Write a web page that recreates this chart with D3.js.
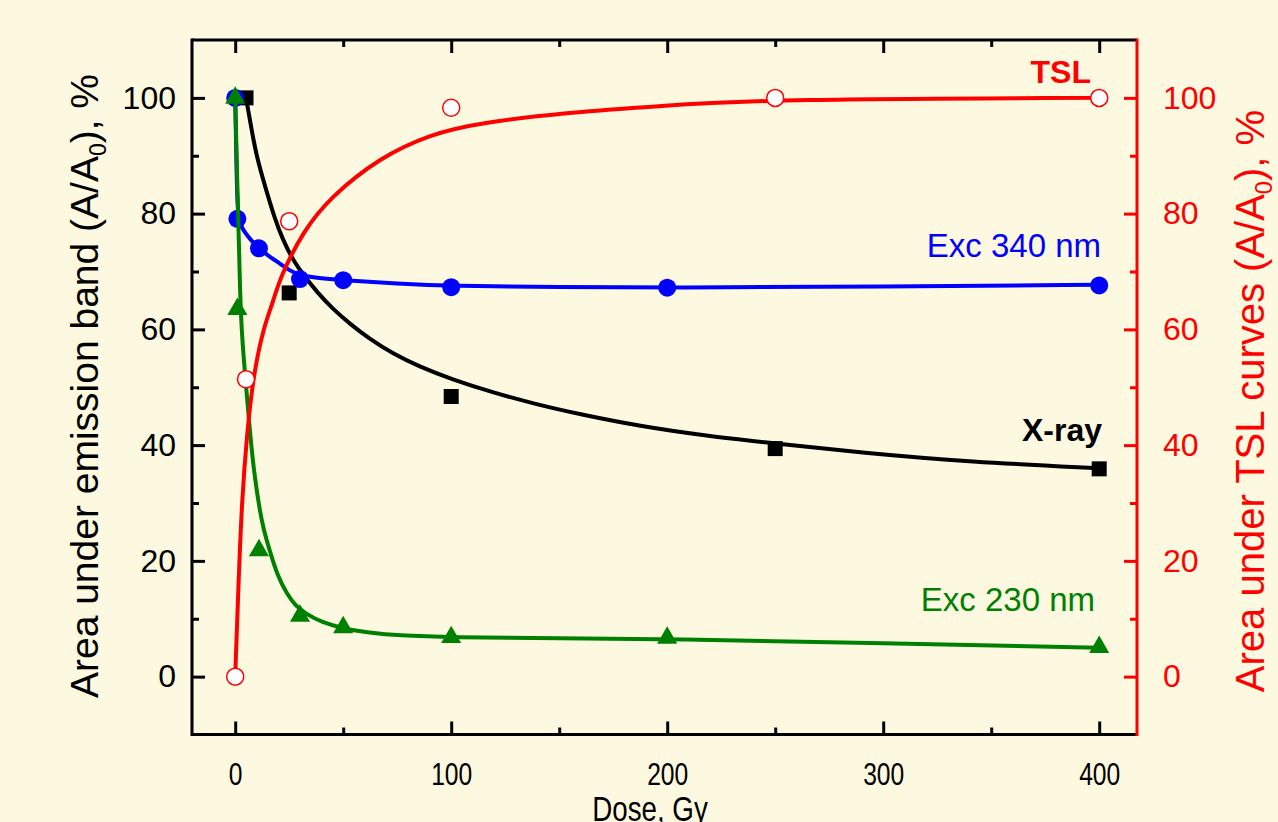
<!DOCTYPE html>
<html>
<head>
<meta charset="utf-8">
<script src="https://cdn.jsdelivr.net/npm/d3@7"></script>
<style>
  html, body { margin: 0; padding: 0; background: #fdf9e0; }
  svg { display: block; font-family: "Liberation Sans", Arial, sans-serif; }
</style>
</head>
<body>
<svg id="chart" width="1278" height="822"></svg>
<script>
// measured points (dose in Gy, area in %)
const xrayDose = [5, 25, 100, 250, 400];
const xrayArea = [100, 66.3, 48.4, 39.4, 35.9];

const exc340Dose = [0, 1, 11, 30, 50, 100, 200, 400];
const exc340Area = [100, 79.1, 74.0, 68.7, 68.5, 67.3, 67.2, 67.6];

const exc230Dose = [0, 1, 11, 30, 50, 100, 200, 400];
const exc230Area = [100, 63.5, 21.8, 10.5, 8.5, 6.8, 6.7, 5.1];

const tslDose = [0, 5, 25, 100, 250, 400];
const tslArea = [0, 51.4, 78.7, 98.3, 100, 100];

// fitted lines
const xrayFitDose = [5, 7.7, 10, 14, 18, 22, 27, 32, 38, 45, 53, 62, 73, 85, 100, 120, 140, 160, 187, 218, 250, 290, 340, 400];
const xrayFitArea = [100, 94.3, 89.7, 84.5, 79.5, 75.5, 71.8, 69.2, 66.4, 63.6, 61, 58.4, 55.8, 53.6, 51.4, 49, 47, 45.3, 43.3, 41.6, 40.3, 38.7, 37.1, 36];

const exc340FitDose = [0, 0.5, 1, 2, 4, 7, 11, 15, 21, 25, 30, 40, 50, 75, 100, 150, 200, 300, 400];
const exc340FitArea = [100, 90, 81, 78.3, 77, 75.5, 74, 72.8, 71.3, 70.2, 69.3, 68.8, 68.5, 67.9, 67.5, 67.3, 67.2, 67.4, 67.7];

const exc230FitDose = [0, 1.2, 2.3, 3.3, 4.6, 6.9, 8.5, 10.8, 13, 16.2, 19.5, 23.9, 28, 33, 40, 50, 62, 75, 100, 150, 200, 300, 400];
const exc230FitArea = [100, 82, 65, 58, 52, 42, 36, 30, 25.5, 21.5, 17.5, 14.3, 12.2, 10.8, 9.4, 8.3, 7.6, 7.1, 6.8, 6.6, 6.5, 5.8, 5.0];

const tslFitDose = [0, 1.5, 3.1, 5.4, 8.5, 13.1, 17.7, 20.8, 31.5, 43.9, 67, 90, 113, 155, 195, 250, 400];
const tslFitArea = [0, 16, 30.4, 41.9, 52.3, 60.3, 64.9, 69, 77, 82.8, 89.7, 93.7, 95.7, 97.5, 98.6, 99.8, 100];

const xTicks = [0, 100, 200, 300, 400];
const xMinor = [50, 150, 250, 350];
const yTicks = [0, 20, 40, 60, 80, 100];
const yMinor = [10, 30, 50, 70, 90];

const svg = d3.select('#chart');
const W = 1278, H = 822;
const mLeft = 192, mRight = 1137, mTop = 40, mBottom = 734.5;

svg.append('rect').attr('width', W).attr('height', H).attr('fill', '#fdf9e0');

const x = d3.scaleLinear().domain([-20, 417.5]).range([mLeft, mRight]);
const y = d3.scaleLinear().domain([-10, 110]).range([mBottom, mTop]);

const zip = (a, b) => a.map((d, i) => [d, b[i]]);

// ticks
function tickAxis(axis, tx, ty, color, labels) {
  const g = svg.append('g').attr('transform', `translate(${tx},${ty})`).call(axis);
  g.select('.domain').remove();
  g.selectAll('line').attr('stroke', color).attr('stroke-width', 3);
  g.selectAll('text').attr('fill', color).attr('font-size', 32)
    .attr('font-family', '"Liberation Sans", Arial, sans-serif');
  if (!labels) g.selectAll('text').remove();
  return g;
}

tickAxis(d3.axisBottom(x).tickValues(xTicks).tickSize(-13).tickPadding(28).tickFormat(d3.format('d')), 0, mBottom, '#000', true)
  .selectAll('text').attr('transform', 'scale(0.77,1)');
tickAxis(d3.axisBottom(x).tickValues(xMinor).tickSize(-7).tickFormat(''), 0, mBottom, '#000', false);
tickAxis(d3.axisTop(x).tickValues(xTicks).tickSize(-13).tickFormat(''), 0, mTop, '#000', false);
tickAxis(d3.axisTop(x).tickValues(xMinor).tickSize(-7).tickFormat(''), 0, mTop, '#000', false);

tickAxis(d3.axisLeft(y).tickValues(yTicks).tickSize(-13).tickPadding(16).tickFormat(d3.format('d')), mLeft, 0, '#000', true);
tickAxis(d3.axisLeft(y).tickValues(yMinor).tickSize(-7).tickFormat(''), mLeft, 0, '#000', false);
tickAxis(d3.axisRight(y).tickValues(yTicks).tickSize(-13).tickPadding(26).tickFormat(d3.format('d')), mRight, 0, '#ff0000', true);
tickAxis(d3.axisRight(y).tickValues(yMinor).tickSize(-7).tickFormat(''), mRight, 0, '#ff0000', false);

// frame
svg.append('line').attr('x1', mLeft).attr('x2', mRight).attr('y1', mTop).attr('y2', mTop).attr('stroke', '#000').attr('stroke-width', 3);
svg.append('line').attr('x1', mLeft).attr('x2', mRight).attr('y1', mBottom).attr('y2', mBottom).attr('stroke', '#000').attr('stroke-width', 3);
svg.append('line').attr('x1', mLeft).attr('x2', mLeft).attr('y1', mTop - 1.5).attr('y2', mBottom + 1.5).attr('stroke', '#000').attr('stroke-width', 3);
svg.append('line').attr('x1', mRight).attr('x2', mRight).attr('y1', mTop - 1.5).attr('y2', mBottom + 1.5).attr('stroke', '#ff0000').attr('stroke-width', 3);

// fit lines + markers
const line = d3.line().x(d => x(d[0])).y(d => y(d[1])).curve(d3.curveBasis);

function fit(dose, area, color) {
  svg.append('path').datum(zip(dose, area)).attr('d', line)
    .attr('fill', 'none').attr('stroke', color).attr('stroke-width', 4);
}

fit(xrayFitDose, xrayFitArea, '#000');
svg.append('g').selectAll('rect').data(zip(xrayDose, xrayArea)).join('rect')
  .attr('x', d => x(d[0]) - 7.5).attr('y', d => y(d[1]) - 7.5)
  .attr('width', 15).attr('height', 15).attr('fill', '#000');

fit(exc340FitDose, exc340FitArea, '#0000ff');
svg.append('g').selectAll('circle').data(zip(exc340Dose, exc340Area)).join('circle')
  .attr('cx', d => x(d[0])).attr('cy', d => y(d[1])).attr('r', 9).attr('fill', '#0000ff');

fit(exc230FitDose, exc230FitArea, '#008000');
svg.append('g').selectAll('path').data(zip(exc230Dose, exc230Area)).join('path')
  .attr('d', d3.symbol(d3.symbolTriangle, 175))
  .attr('transform', d => `translate(${x(d[0])},${y(d[1])})`).attr('fill', '#008000');

fit(tslFitDose, tslFitArea, '#ff0000');
svg.append('g').selectAll('circle').data(zip(tslDose, tslArea)).join('circle')
  .attr('cx', d => x(d[0])).attr('cy', d => y(d[1])).attr('r', 8.5)
  .attr('fill', '#fff').attr('stroke', '#ff0000').attr('stroke-width', 1.5);

// series labels
function label(txt, px, py, color, bold) {
  svg.append('text').attr('x', px).attr('y', py).attr('text-anchor', 'end')
    .attr('font-size', bold ? 32 : 33).attr('font-weight', bold ? 'bold' : 'normal')
    .attr('fill', color).text(txt);
}
label('TSL', 1091, 83, '#ff0000', true);
label('Exc 340 nm', 1101, 257, '#0000ff', false);
label('X-ray', 1102, 441, '#000', true);
label('Exc 230 nm', 1095, 611, '#008000', false);

// axis titles
svg.append('text').attr('transform', 'translate(650,821) scale(0.77,1)').attr('text-anchor', 'middle')
  .attr('font-size', 36).attr('fill', '#000').text('Dose, Gy');

function yTitle(cx, cy, pre, color, size) {
  const t = svg.append('text').attr('transform', `translate(${cx},${cy}) rotate(-90)`)
    .attr('text-anchor', 'middle').attr('font-size', size).attr('fill', color);
  t.append('tspan').text(pre + ' (A/A');
  t.append('tspan').attr('font-size', size * 0.59).attr('dy', 8).text('0');
  t.append('tspan').attr('dy', -8).text('), %');
}
yTitle(98, 386, 'Area under emission band', '#000', 39);
yTitle(1264, 401, 'Area under TSL curves', '#ff0000', 40);
</script>
</body>
</html>
